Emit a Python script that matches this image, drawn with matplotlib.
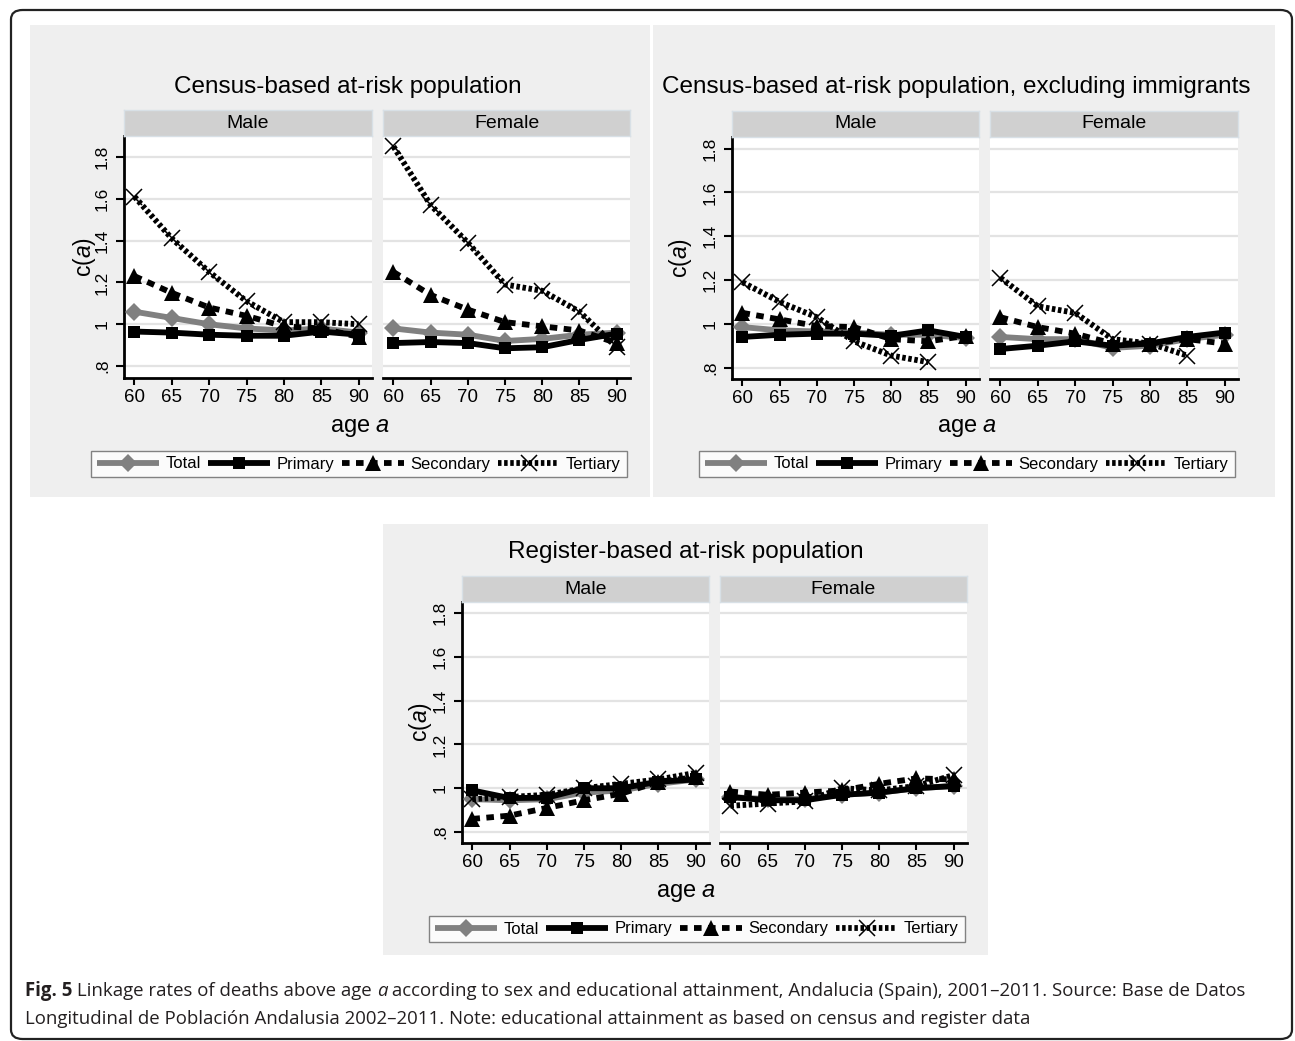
import numpy as np
import matplotlib
matplotlib.use('Agg')
import matplotlib.pyplot as plt
from matplotlib.patches import Rectangle, FancyBboxPatch
from matplotlib.lines import Line2D

plt.rcParams['font.family'] = ['Liberation Sans', 'DejaVu Sans']
plt.rcParams['mathtext.fontset'] = 'custom'
plt.rcParams['mathtext.rm'] = 'Liberation Sans'
plt.rcParams['mathtext.it'] = 'Liberation Sans:italic'

nan = np.nan
ages = [60, 65, 70, 75, 80, 85, 90]
series_names = ['Total', 'Primary', 'Secondary', 'Tertiary']

# Census-based at-risk population
cm_total = [1.06, 1.03, 1.00, 0.98, 0.97, 0.98, 0.96]
cm_primary = [0.965, 0.96, 0.95, 0.945, 0.945, 0.965, 0.95]
cm_secondary = [1.23, 1.15, 1.08, 1.04, 0.99, 0.98, 0.94]
cm_tertiary = [1.61, 1.41, 1.25, 1.11, 1.01, 1.01, 1.00]
cf_total = [0.98, 0.96, 0.95, 0.92, 0.93, 0.95, 0.96]
cf_primary = [0.91, 0.915, 0.91, 0.885, 0.89, 0.925, 0.955]
cf_secondary = [1.25, 1.14, 1.07, 1.01, 0.99, 0.97, 0.91]
cf_tertiary = [1.85, 1.57, 1.39, 1.19, 1.16, 1.06, 0.89]

# Census-based, excluding immigrants
em_total = [0.985, 0.97, 0.965, 0.96, 0.95, 0.95, 0.935]
em_primary = [0.94, 0.95, 0.955, 0.955, 0.945, 0.97, 0.94]
em_secondary = [1.05, 1.02, 0.99, 0.985, 0.93, 0.92, 0.945]
em_tertiary = [1.19, 1.10, 1.03, 0.92, 0.855, 0.825, nan]
ef_total = [0.94, 0.93, 0.93, 0.89, 0.90, 0.93, 0.95]
ef_primary = [0.885, 0.90, 0.92, 0.90, 0.91, 0.94, 0.96]
ef_secondary = [1.03, 0.985, 0.955, 0.91, 0.91, 0.93, 0.91]
ef_tertiary = [1.21, 1.08, 1.05, 0.93, 0.91, 0.855, nan]

# Register-based at-risk population
rm_total = [0.95, 0.945, 0.95, 0.98, 0.99, 1.02, 1.04]
rm_primary = [0.99, 0.955, 0.957, 1.0, 1.0, 1.03, 1.04]
rm_secondary = [0.86, 0.875, 0.91, 0.945, 0.975, 1.03, 1.05]
rm_tertiary = [0.95, 0.96, 0.97, 1.0, 1.02, 1.04, 1.07]
rf_total = [0.96, 0.95, 0.95, 0.97, 0.98, 1.0, 1.01]
rf_primary = [0.96, 0.945, 0.945, 0.97, 0.98, 1.0, 1.01]
rf_secondary = [0.985, 0.97, 0.98, 0.99, 1.02, 1.045, 1.04]
rf_tertiary = [0.92, 0.93, 0.94, 1.0, 0.99, 1.01, 1.06]

yticks = [0.8, 1.0, 1.2, 1.4, 1.6, 1.8]
ytick_labels = ['.8', '1', '1.2', '1.4', '1.6', '1.8']

W, H = 1295, 1041
fig = plt.figure(figsize=(W / 100, H / 100), dpi=100)


def frac(x0, y0, x1, y1):
    return [x0 / W, 1 - y1 / H, (x1 - x0) / W, (y1 - y0) / H]


styles = [
    dict(color='#808080', lw=4.2, ls='-', marker='D', ms=9, mew=0),
    dict(color='black', lw=4.2, ls='-', marker='s', ms=8.5, mew=0),
    dict(color='black', lw=4.2, ls=(0, (1.3, 1.1)), marker='^', ms=11, mew=0),
    dict(color='black', lw=4.2, ls=(0, (0.6, 0.45)), marker='x', ms=12, mew=1.1),
]


def line_kw(st):
    return dict(color=st['color'], lw=st['lw'], ls=st['ls'], marker=st['marker'],
                ms=st['ms'], mew=st['mew'], mec='black' if st['marker'] == 'x' else st['color'],
                mfc=st['color'], solid_capstyle='butt', dash_capstyle='butt')


panels = [
    dict(title='Census-based at-risk population', bg=(30, 25, 650, 497),
         axes=[(124, 136, 372, 378), (383, 136, 630, 378)], ylim=(0.743, 1.90),
         data=[[cm_total, cm_primary, cm_secondary, cm_tertiary],
               [cf_total, cf_primary, cf_secondary, cf_tertiary]],
         title_xy=(348, 87), ylab_x=84, xlab_xy=(360, 428), leg_xy=(359, 464)),
    dict(title='Census-based at-risk population, excluding immigrants', bg=(653, 25, 1275, 497),
         axes=[(732, 137, 979, 379), (990, 137, 1238, 379)], ylim=(0.748, 1.853),
         data=[[em_total, em_primary, em_secondary, em_tertiary],
               [ef_total, ef_primary, ef_secondary, ef_tertiary]],
         title_xy=(956, 87), ylab_x=681, xlab_xy=(967, 428), leg_xy=(967, 464)),
    dict(title='Register-based at-risk population', bg=(383, 524, 988, 955),
         axes=[(462, 602, 709, 843), (720, 602, 967, 843)], ylim=(0.75, 1.85),
         data=[[rm_total, rm_primary, rm_secondary, rm_tertiary],
               [rf_total, rf_primary, rf_secondary, rf_tertiary]],
         title_xy=(686, 552), ylab_x=421, xlab_xy=(686, 893), leg_xy=(697, 929)),
]

# outer frame
fig.patches.append(FancyBboxPatch((11 / W, 1 - 1039 / H), 1281 / W, 1029 / H,
                                  boxstyle='round,pad=0,rounding_size=0.009',
                                  transform=fig.transFigure, fill=False,
                                  edgecolor='#222222', lw=1.6, zorder=-10))

for p in panels:
    x0, y0, x1, y1 = p['bg']
    fig.patches.append(Rectangle((x0 / W, 1 - y1 / H), (x1 - x0) / W, (y1 - y0) / H,
                                 transform=fig.transFigure, facecolor='#efefef',
                                 edgecolor='none', zorder=-10))
    fig.text(p['title_xy'][0] / W, 1 - p['title_xy'][1] / H, p['title'],
             ha='center', va='center', fontsize=17.5)
    for k, (rect, sex) in enumerate(zip(p['axes'], ['Male', 'Female'])):
        ax = fig.add_axes(frac(*rect))
        ax.set_facecolor('white')
        for st, vals in zip(styles, p['data'][k]):
            ax.plot(ages, vals, **line_kw(st), clip_on=False, zorder=3)
        ax.set_xlim(58.6, 91.8)
        ax.set_ylim(*p['ylim'])
        ax.set_xticks(ages)
        ax.set_yticks(yticks)
        ax.grid(axis='y', color='#e3e3e3', lw=1.6, zorder=0)
        ax.set_axisbelow(True)
        for s in ['top', 'right']:
            ax.spines[s].set_visible(False)
        ax.spines['bottom'].set_linewidth(2)
        ax.spines['left'].set_linewidth(2)
        ax.tick_params(axis='x', length=5, width=1.5, labelsize=13.5, pad=3)
        if k == 0:
            ax.set_yticklabels(ytick_labels, rotation=90, va='center')
            ax.tick_params(axis='y', length=6, width=1.5, labelsize=12.5, pad=4)
        else:
            ax.spines['left'].set_visible(False)
            ax.tick_params(axis='y', length=0, labelleft=False)
        # strip
        sx = fig.add_axes(frac(rect[0], rect[1] - 26, rect[2], rect[1]))
        sx.set_facecolor('#d0d0d0')
        sx.set_xticks([])
        sx.set_yticks([])
        for s in sx.spines.values():
            s.set_edgecolor('#d8e0e6')
            s.set_linewidth(1)
        sx.text(0.5, 0.5, sex, ha='center', va='center', fontsize=14, transform=sx.transAxes)

    mid_y = (p['axes'][0][1] + p['axes'][0][3]) / 2
    fig.text(p['ylab_x'] / W, 1 - mid_y / H, 'c($\\mathit{a}$)', rotation=90,
             ha='center', va='center', fontsize=16.5)
    fig.text(p['xlab_xy'][0] / W, 1 - p['xlab_xy'][1] / H, 'age $\\mathit{a}$',
             ha='center', va='center', fontsize=17)

    handles = [Line2D([], [], **line_kw(st)) for st in styles]
    leg = fig.legend(handles, series_names, loc='center',
                     bbox_to_anchor=(p['leg_xy'][0] / W, 1 - p['leg_xy'][1] / H),
                     ncol=4, fontsize=12, handlelength=3.7, handletextpad=0.4,
                     columnspacing=0.45, frameon=True, fancybox=False,
                     borderpad=0.35, borderaxespad=0)
    leg.get_frame().set_edgecolor('#666666')
    leg.get_frame().set_linewidth(1)

# caption
renderer = fig.canvas.get_renderer()
cap_color = '#231f20'
cap_font = 'Open Sans'


def draw_segments(x, y, segments, size=13.4):
    for txt, weight, style in segments:
        t = fig.text(x / W, 1 - y / H, txt, ha='left', va='baseline', fontsize=size,
                     family=cap_font, weight=weight, style=style, color=cap_color)
        bb = t.get_window_extent(renderer=renderer)
        x += bb.width


draw_segments(25, 996, [
    ('Fig. 5', 'bold', 'normal'),
    (' Linkage rates of deaths above age ', 'normal', 'normal'),
    ('a', 'normal', 'italic'),
    (' according to sex and educational attainment, Andalucia (Spain), 2001\u20132011. Source: Base de Datos',
     'normal', 'normal'),
])
draw_segments(25, 1024, [
    ('Longitudinal de Poblaci\u00f3n Andalusia 2002\u20132011. Note: educational attainment as based on census and register data',
     'normal', 'normal'),
])

fig.savefig('out.png', dpi=100)
